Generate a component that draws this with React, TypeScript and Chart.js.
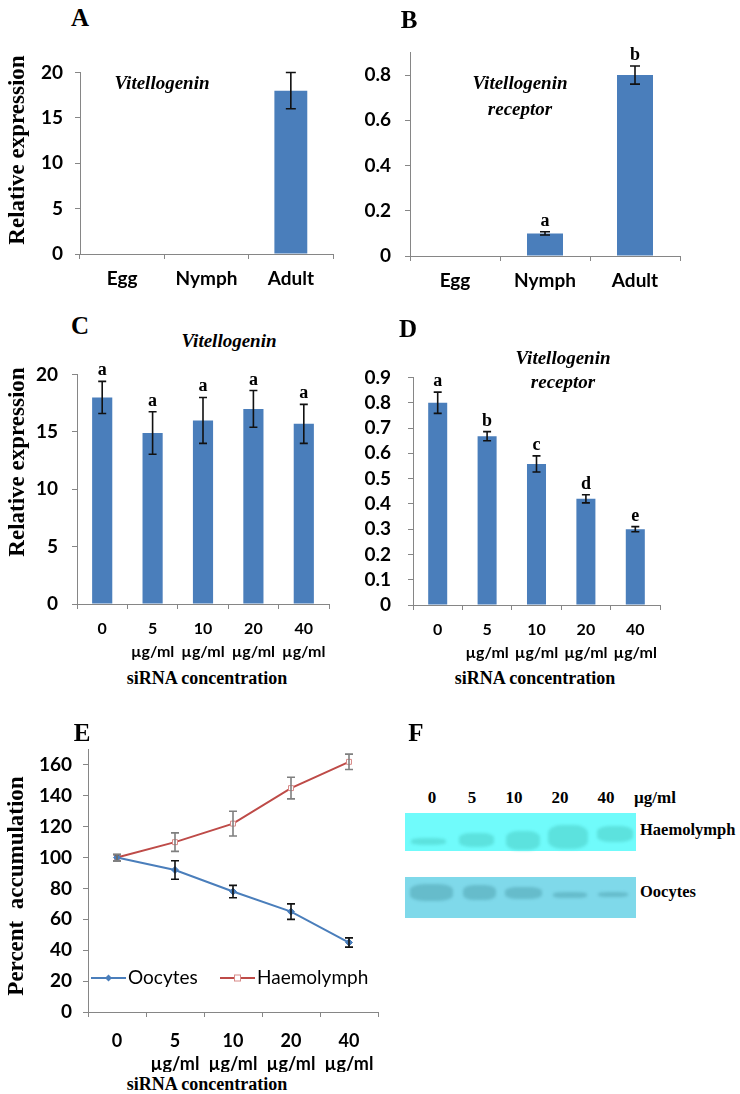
import React, { useEffect, useRef } from 'react';
import { Chart, registerables } from 'chart.js';

Chart.register(...registerables);

// ---------- data ----------
const stageLabels = ['Egg', 'Nymph', 'Adult'];
const vgStageValues = [null, null, 18];
const vgStageErrors = [null, null, 2];
const vgStageLetters = ['', '', ''];
const vgrStageValues = [null, 0.1, 0.8];
const vgrStageErrors = [null, 0.007, 0.04];
const vgrStageLetters = ['', 'a', 'b'];

const doseLabels = [['0'], ['5', 'µg/ml'], ['10', 'µg/ml'], ['20', 'µg/ml'], ['40', 'µg/ml']];
const vgDoseValues = [18, 14.9, 16, 17, 15.7];
const vgDoseErrors = [1.4, 1.85, 2, 1.6, 1.7];
const vgDoseLetters = ['a', 'a', 'a', 'a', 'a'];
const vgrDoseValues = [0.8, 0.668, 0.558, 0.42, 0.3];
const vgrDoseErrors = [0.042, 0.018, 0.032, 0.016, 0.01];
const vgrDoseLetters = ['a', 'b', 'c', 'd', 'e'];

const oocyteValues = [100, 92, 78, 65, 45];
const oocyteErrors = [2, 6, 4, 5, 3];
const haemolymphValues = [100, 110, 122, 145, 162];
const haemolymphErrors = [2, 6, 8, 7, 5];

const blotLanes = ['0', '5', '10', '20', '40'];

// ---------- styles ----------
const SERIF = '"Liberation Serif", "Times New Roman", serif';
const SANS = 'Lato, "Open Sans", sans-serif';
const AXIS = '#868686';
const BAR = '#4a7ebb';

type Area = { l: number; t: number; r: number; b: number };
type Margins = { ml: number; mt: number; mr: number; mb: number };

const errorBarPlugin = {
  id: 'errorBars',
  afterDatasetsDraw(chart: any, _args: any, opts: any) {
    const ctx = chart.ctx;
    const yScale = chart.scales.y;
    const cap = opts.cap ?? 8;
    chart.data.datasets.forEach((ds: any, di: number) => {
      const meta = chart.getDatasetMeta(di);
      meta.data.forEach((el: any, i: number) => {
        const v = ds.data[i];
        if (v == null) return;
        const e = ds.errors ? ds.errors[i] : null;
        const x = el.x;
        let top = yScale.getPixelForValue(v);
        if (e != null) {
          const yt = yScale.getPixelForValue(v + e);
          const yb = yScale.getPixelForValue(v - e);
          ctx.save();
          ctx.strokeStyle = ds.errorColor || '#111';
          ctx.lineWidth = opts.lineWidth ?? 1.6;
          ctx.beginPath();
          ctx.moveTo(x, yt);
          ctx.lineTo(x, yb);
          ctx.moveTo(x - cap / 2, yt);
          ctx.lineTo(x + cap / 2, yt);
          ctx.moveTo(x - cap / 2, yb);
          ctx.lineTo(x + cap / 2, yb);
          ctx.stroke();
          ctx.restore();
          top = yt;
        }
        const letter = ds.letters ? ds.letters[i] : '';
        if (letter) {
          ctx.save();
          ctx.fillStyle = '#000';
          ctx.font = `bold 18px ${SERIF}`;
          ctx.textAlign = 'center';
          ctx.textBaseline = 'alphabetic';
          ctx.fillText(letter, x, top - 6);
          ctx.restore();
        }
      });
    });
  },
};

const insideLegendPlugin = {
  id: 'insideLegend',
  afterDraw(chart: any) {
    const { ctx, chartArea } = chart;
    const y = chartArea.bottom - 34;
    const offsets = [3, 132];
    chart.data.datasets.forEach((ds: any, i: number) => {
      const x0 = chartArea.left + offsets[i];
      const x1 = x0 + 35;
      ctx.save();
      ctx.strokeStyle = ds.borderColor;
      ctx.lineWidth = 2;
      ctx.beginPath();
      ctx.moveTo(x0, y);
      ctx.lineTo(x1, y);
      ctx.stroke();
      const mx = (x0 + x1) / 2;
      if (ds.pointStyle === 'rectRot') {
        ctx.fillStyle = ds.pointBackgroundColor;
        ctx.beginPath();
        ctx.moveTo(mx, y - 3.5);
        ctx.lineTo(mx + 3.5, y);
        ctx.lineTo(mx, y + 3.5);
        ctx.lineTo(mx - 3.5, y);
        ctx.closePath();
        ctx.fill();
      } else {
        ctx.fillStyle = '#fff';
        ctx.strokeStyle = ds.pointBorderColor;
        ctx.lineWidth = 1;
        ctx.fillRect(mx - 3, y - 3, 6, 6);
        ctx.strokeRect(mx - 3, y - 3, 6, 6);
      }
      ctx.fillStyle = '#000';
      ctx.font = `19px ${SANS}`;
      ctx.textAlign = 'left';
      ctx.textBaseline = 'middle';
      ctx.fillText(ds.label, x1 + 2, y);
      ctx.restore();
    });
  },
};

function xAxis(mb: number, pad: number, size: number, lineHeight: number) {
  return {
    type: 'category',
    offset: true,
    grid: { display: true, drawOnChartArea: false, drawTicks: true, tickLength: 5, color: AXIS, offset: true },
    border: { display: true, color: AXIS, width: 1 },
    ticks: {
      color: '#000',
      font: { family: SANS, weight: 'bold', size, lineHeight },
      padding: pad,
      maxRotation: 0,
      minRotation: 0,
      autoSkip: false,
    },
    afterFit: (s: any) => {
      s.height = mb;
    },
  };
}

function yAxis(ml: number, max: number, step: number, pad: number, size: number) {
  return {
    type: 'linear',
    min: 0,
    max,
    grid: { display: true, drawOnChartArea: false, drawTicks: true, tickLength: 5, color: AXIS },
    border: { display: true, color: AXIS, width: 1 },
    ticks: {
      stepSize: step,
      includeBounds: false,
      autoSkip: false,
      padding: pad,
      color: '#000',
      font: { family: SANS, weight: 'bold', size, lineHeight: 1 },
    },
    afterFit: (s: any) => {
      s.width = ml;
    },
  };
}

function ChartBox({ area, m, config }: { area: Area; m: Margins; config: () => any }) {
  const ref = useRef<HTMLCanvasElement>(null);
  const w = area.r - area.l + m.ml + m.mr;
  const h = area.b - area.t + m.mt + m.mb;
  useEffect(() => {
    const chart = new Chart(ref.current as HTMLCanvasElement, config());
    return () => chart.destroy();
  }, []);
  return (
    <canvas
      ref={ref}
      width={w}
      height={h}
      style={{ position: 'absolute', left: area.l - m.ml, top: area.t - m.mt, width: w, height: h }}
    />
  );
}

function barConfig(
  labels: any[],
  values: any[],
  errors: any[],
  letters: string[],
  m: Margins,
  yMax: number,
  step: number,
  yPad: number,
  xPad: number,
  xSize: number,
  xLine: number,
  barPct: number,
  cap: number
) {
  return () => ({
    type: 'bar',
    data: {
      labels,
      datasets: [
        {
          data: values,
          errors,
          letters,
          backgroundColor: BAR,
          borderColor: '#3d6fae',
          borderWidth: 0,
          barPercentage: barPct,
          categoryPercentage: 1,
        },
      ],
    },
    options: {
      responsive: false,
      animation: false,
      layout: { padding: { top: m.mt, right: m.mr, left: 0, bottom: 0 } },
      plugins: { legend: { display: false }, tooltip: { enabled: false }, errorBars: { cap } },
      scales: {
        x: xAxis(m.mb, xPad, xSize, xLine),
        y: yAxis(m.ml, yMax, step, yPad, 19),
      },
    },
    plugins: [errorBarPlugin],
  });
}

function T({
  x,
  y,
  size,
  children,
  italic = false,
  bold = true,
  family = SERIF,
  rotate = false,
  align = 'center',
}: any) {
  const tx = align === 'left' ? '0' : '-50%';
  return (
    <div
      style={{
        position: 'absolute',
        left: x,
        top: y,
        transform: `translate(${tx},-50%)${rotate ? ' rotate(-90deg)' : ''}`,
        whiteSpace: 'pre',
        fontSize: size,
        lineHeight: 1,
        fontFamily: family,
        fontWeight: bold ? 700 : 400,
        fontStyle: italic ? 'italic' : 'normal',
        color: '#000',
      }}
    >
      {children}
    </div>
  );
}

const haemBands = [
  { cx: 428, cy: 841, w: 35, h: 7 },
  { cx: 476, cy: 840, w: 35, h: 14 },
  { cx: 523, cy: 840, w: 34, h: 19 },
  { cx: 568, cy: 837, w: 40, h: 24 },
  { cx: 615, cy: 834, w: 36, h: 16 },
];
const oocyteBands = [
  { cx: 431, cy: 892, w: 43, h: 17 },
  { cx: 479, cy: 892, w: 33, h: 15 },
  { cx: 523, cy: 893, w: 37, h: 12 },
  { cx: 570, cy: 895, w: 34, h: 6 },
  { cx: 613, cy: 894, w: 30, h: 5 },
];
const laneLabelX = [432, 472, 514, 560, 606];

function Blot() {
  return (
    <>
      <div style={{ position: 'absolute', left: 405, top: 813, width: 231, height: 38, background: '#70fbfb', filter: 'blur(0.6px)' }} />
      <div style={{ position: 'absolute', left: 405, top: 877, width: 231, height: 41, background: '#7fd9ea', filter: 'blur(0.6px)' }} />
      {haemBands.map((b, i) => (
        <div
          key={'h' + i}
          style={{
            position: 'absolute',
            left: b.cx - b.w / 2,
            top: b.cy - b.h / 2,
            width: b.w,
            height: b.h,
            borderRadius: '35%',
            background: '#5ce2de',
            filter: 'blur(1.5px)',
          }}
        />
      ))}
      {oocyteBands.map((b, i) => (
        <div
          key={'o' + i}
          style={{
            position: 'absolute',
            left: b.cx - b.w / 2,
            top: b.cy - b.h / 2,
            width: b.w,
            height: b.h,
            borderRadius: '35%',
            background: '#66bccb',
            filter: 'blur(1.5px)',
          }}
        />
      ))}
      {blotLanes.map((l, i) => (
        <T key={'l' + i} x={laneLabelX[i]} y={797} size={17}>
          {l}
        </T>
      ))}
      <T x={655} y={797} size={17}>µg/ml</T>
      <T x={640} y={830} size={16.5} align="left">Haemolymph</T>
      <T x={640} y={892} size={16.5} align="left">Oocytes</T>
    </>
  );
}

const areaA: Area = { l: 80, t: 65, r: 333, b: 254 };
const areaB: Area = { l: 410, t: 43, r: 680, b: 256 };
const areaC: Area = { l: 77, t: 365, r: 329, b: 604 };
const areaD: Area = { l: 413, t: 365, r: 660, b: 605 };
const areaE: Area = { l: 88, t: 743, r: 378, b: 1012 };
const mTop: Margins = { ml: 60, mt: 14, mr: 12, mb: 40 };
const mDose: Margins = { ml: 60, mt: 14, mr: 12, mb: 60 };

const configE = () => ({
  type: 'line',
  data: {
    labels: doseLabels,
    datasets: [
      {
        label: 'Oocytes',
        data: oocyteValues,
        errors: oocyteErrors,
        errorColor: '#111',
        borderColor: '#4a7ebb',
        backgroundColor: '#4a7ebb',
        borderWidth: 2,
        pointStyle: 'rectRot',
        pointRadius: 3.5,
        pointBackgroundColor: '#4a7ebb',
        pointBorderColor: '#4a7ebb',
        pointBorderWidth: 1,
        tension: 0,
      },
      {
        label: 'Haemolymph',
        data: haemolymphValues,
        errors: haemolymphErrors,
        errorColor: '#7f7f7f',
        borderColor: '#be4b48',
        backgroundColor: '#ffffff',
        borderWidth: 2,
        pointStyle: 'rect',
        pointRadius: 3.5,
        pointBackgroundColor: '#ffffff',
        pointBorderColor: '#d88a88',
        pointBorderWidth: 1,
        tension: 0,
      },
    ],
  },
  options: {
    responsive: false,
    animation: false,
    layout: { padding: { top: mDose.mt, right: mDose.mr, left: 0, bottom: 0 } },
    plugins: { legend: { display: false }, tooltip: { enabled: false }, errorBars: { cap: 8, lineWidth: 1.6 } },
    scales: {
      x: xAxis(mDose.mb, 13, 18, 1.25),
      y: yAxis(mDose.ml, 170, 20, 11, 19),
    },
  },
  plugins: [errorBarPlugin, insideLegendPlugin],
});

export default function App() {
  return (
    <div
      style={{
        position: 'absolute',
        left: 0,
        top: 0,
        width: 740,
        height: 1094,
        background: '#fff',
        overflow: 'hidden',
      }}
    >
      <ChartBox
        area={areaA}
        m={mTop}
        config={barConfig(stageLabels, vgStageValues, vgStageErrors, vgStageLetters, mTop, 20, 5, 12, 8, 19, 1.2, 0.39, 10)}
      />
      <ChartBox
        area={areaB}
        m={mTop}
        config={barConfig(stageLabels, vgrStageValues, vgrStageErrors, vgrStageLetters, mTop, 0.9, 0.2, 14, 8, 19, 1.2, 0.4, 10)}
      />
      <ChartBox
        area={areaC}
        m={mDose}
        config={barConfig(doseLabels, vgDoseValues, vgDoseErrors, vgDoseLetters, mDose, 20, 5, 14, 9, 16, 1.4, 0.4, 8)}
      />
      <ChartBox
        area={areaD}
        m={mDose}
        config={barConfig(doseLabels, vgrDoseValues, vgrDoseErrors, vgrDoseLetters, mDose, 0.9, 0.1, 17, 9, 16, 1.4, 0.385, 8)}
      />
      <ChartBox area={areaE} m={mDose} config={configE} />

      {/* panel letters */}
      <T x={80} y={16.5} size={25}>A</T>
      <T x={409} y={19} size={25}>B</T>
      <T x={80} y={325} size={25}>C</T>
      <T x={408} y={327.5} size={25}>D</T>
      <T x={82} y={731.5} size={25}>E</T>
      <T x={416} y={731.5} size={25}>F</T>

      {/* in-chart titles */}
      <T x={162} y={82} size={19} italic>Vitellogenin</T>
      <T x={520} y={82} size={19} italic>Vitellogenin</T>
      <T x={520} y={108} size={19} italic>receptor</T>
      <T x={229} y={340} size={19} italic>Vitellogenin</T>
      <T x={563} y={357} size={19} italic>Vitellogenin</T>
      <T x={563} y={381} size={19} italic>receptor</T>

      {/* axis titles */}
      <T x={16} y={150} size={23} rotate>Relative expression</T>
      <T x={16} y={462} size={23} rotate>Relative expression</T>
      <T x={15} y={886} size={23} rotate>{'Percent  accumulation'}</T>
      <T x={207} y={678} size={18}>siRNA concentration</T>
      <T x={535} y={678} size={18}>siRNA concentration</T>
      <T x={207} y={1084} size={18}>siRNA concentration</T>

      <Blot />
    </div>
  );
}
